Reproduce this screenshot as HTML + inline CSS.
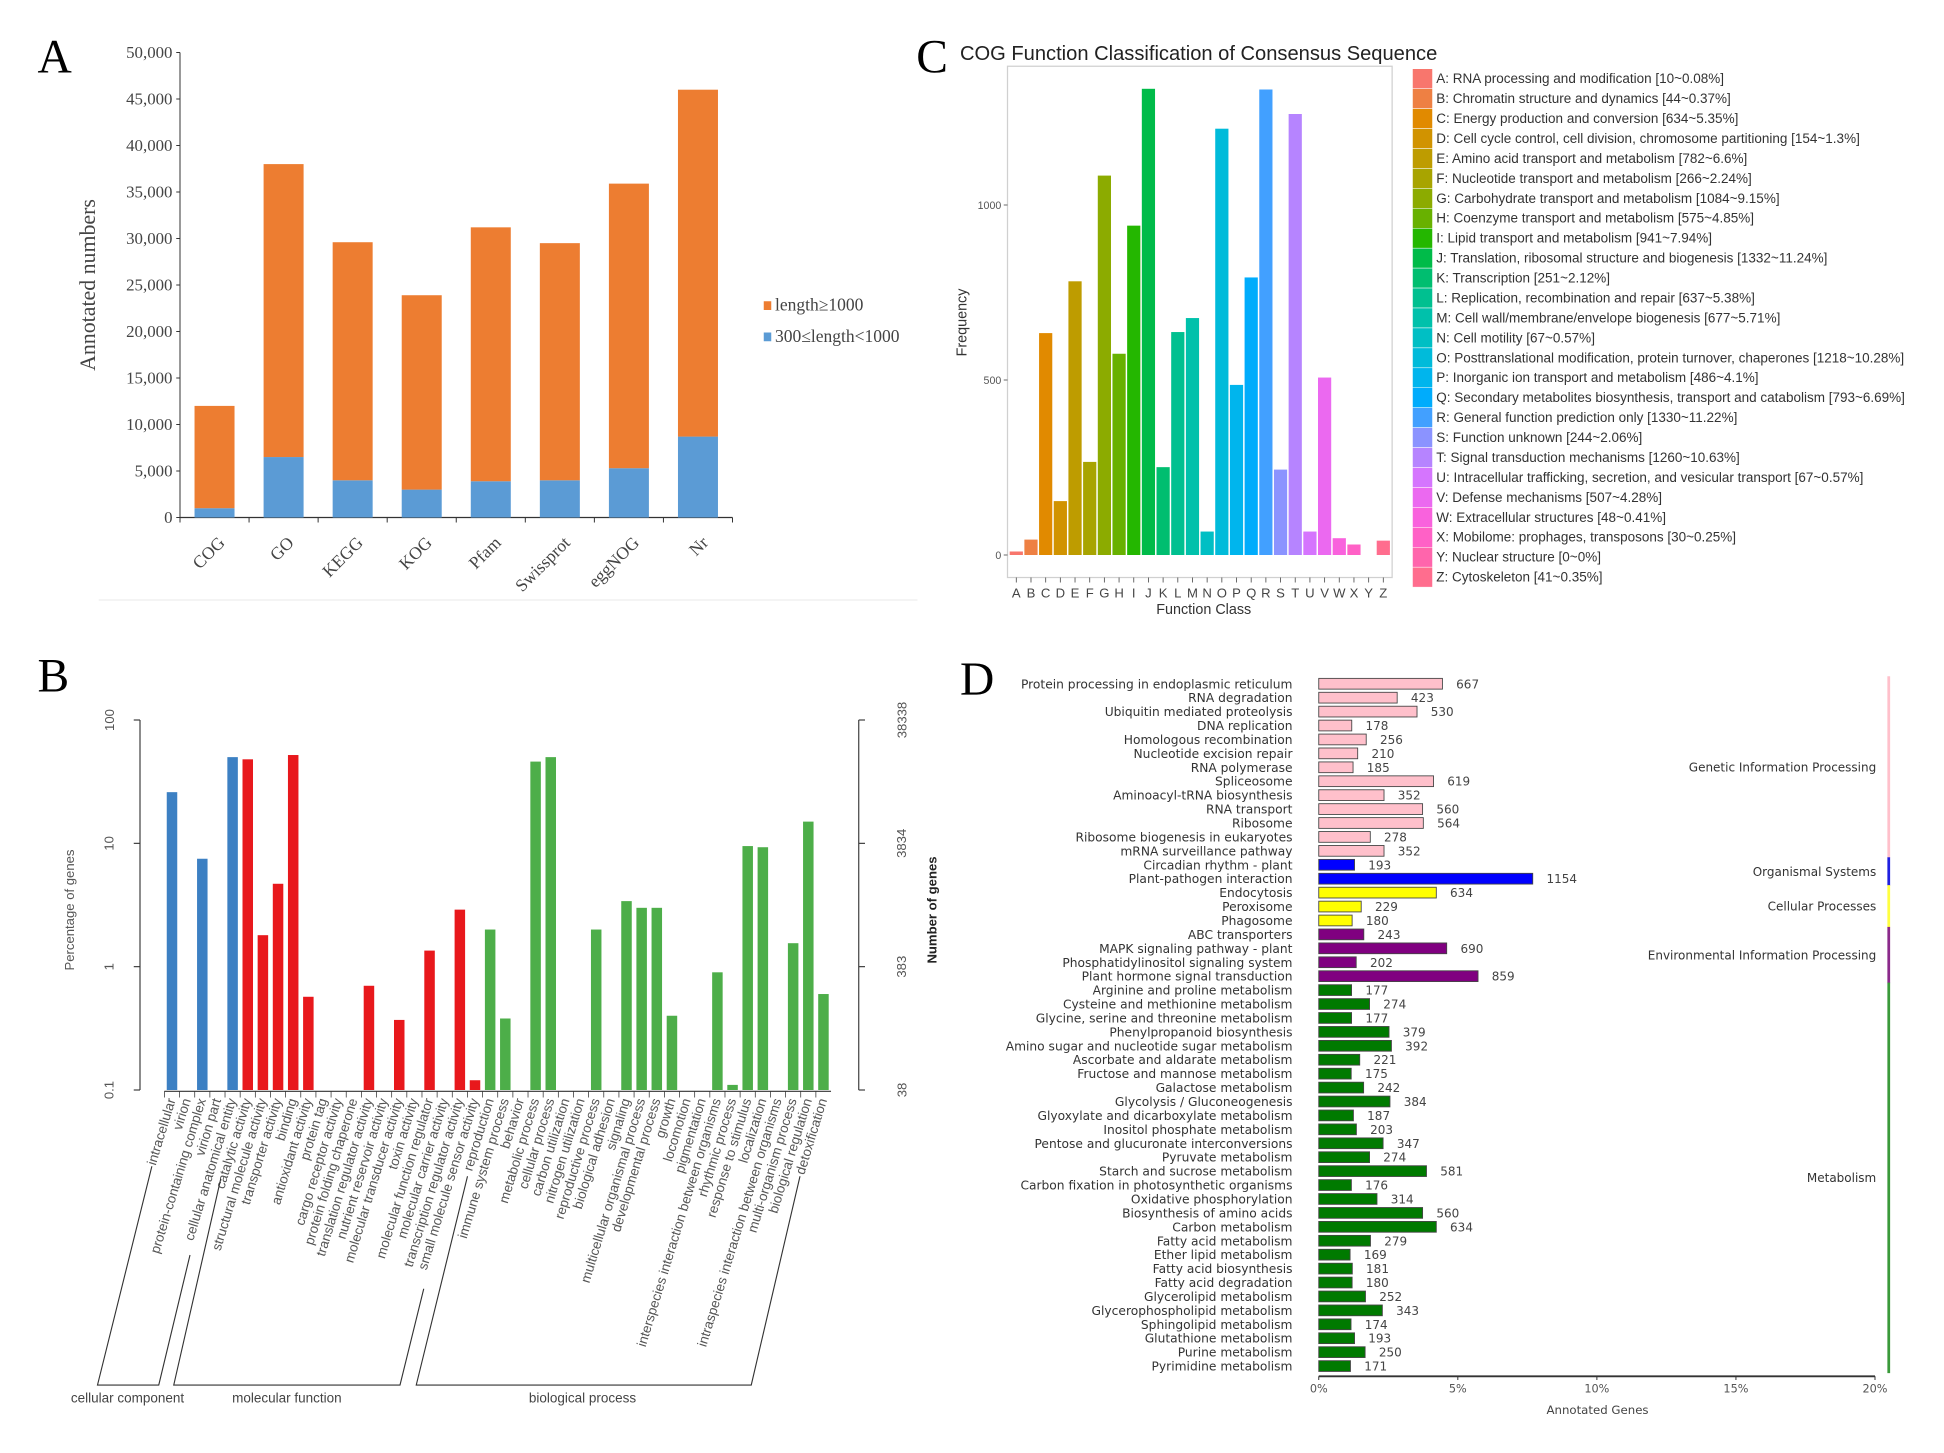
<!DOCTYPE html>
<html><head><meta charset="utf-8">
<style>
html,body{margin:0;padding:0;background:#fff;}
svg{display:block;}
</style></head>
<body>
<svg id="fig" xmlns="http://www.w3.org/2000/svg" width="1944" height="1453" viewBox="0 0 1555.2 1162.4" preserveAspectRatio="none">
<rect x="0" y="0" width="1555.2" height="1162.4" fill="#fff"/>
<g id="pA"></g>
<g id="pB"></g>
<g id="pC"></g>
<g id="pD"></g>
</svg>
<script>
// ---------- Panel A data ----------
const aCats=["COG","GO","KEGG","KOG","Pfam","Swissprot","eggNOG","Nr"];
const aShort=[1000,6500,4000,3000,3900,4000,5300,8700];
const aLong=[11000,31500,25600,20900,27300,25500,30600,37300];
const aTicks=[0,5000,10000,15000,20000,25000,30000,35000,40000,45000,50000];
// ---------- Panel B data ----------
const bCats=["intracellular","virion","protein-containing complex","virion part","cellular anatomical entity",
"catalytic activity","structural molecule activity","transporter activity","binding","antioxidant activity","protein tag","cargo receptor activity","protein folding chaperone","translation regulator activity","nutrient reservoir activity","molecular transducer activity","toxin activity","molecular function regulator","molecular carrier activity","transcription regulator activity","small molecule sensor activity",
"reproduction","immune system process","behavior","metabolic process","cellular process","carbon utilization","nitrogen utilization","reproductive process","biological adhesion","signaling","multicellular organismal process","developmental process","growth","locomotion","pigmentation","interspecies interaction between organisms","rhythmic process","response to stimulus","localization","intraspecies interaction between organisms","multi-organism process","biological regulation","detoxification"];
const bGroup=[0,0,0,0,0, 1,1,1,1,1,1,1,1,1,1,1,1,1,1,1,1, 2,2,2,2,2,2,2,2,2,2,2,2,2,2,2,2,2,2,2,2,2,2,2];
const bPct=[26,0,7.5,0,50, 48,1.8,4.7,52,0.57,0,0,0,0.7,0,0.37,0,1.35,0,2.9,0.12, 2.0,0.38,0,46,50,0,0,2.0,0,3.4,3.0,3.0,0.4,0,0,0.9,0.11,9.5,9.3,0,1.55,15,0.6];
const bLeftTicks=["0.1","1","10","100"];
const bRightTicks=["38","383","3834","38338"];
const bGroupNames=["cellular component","molecular function","biological process"];
// ---------- Panel C data ----------
const cCats=["A","B","C","D","E","F","G","H","I","J","K","L","M","N","O","P","Q","R","S","T","U","V","W","X","Y","Z"];
const cVals=[10,44,634,154,782,266,1084,575,941,1332,251,637,677,67,1218,486,793,1330,244,1260,67,507,48,30,0,41];
const cLegend=["A: RNA processing and modification [10~0.08%]","B: Chromatin structure and dynamics [44~0.37%]","C: Energy production and conversion [634~5.35%]","D: Cell cycle control, cell division, chromosome partitioning [154~1.3%]","E: Amino acid transport and metabolism [782~6.6%]","F: Nucleotide transport and metabolism [266~2.24%]","G: Carbohydrate transport and metabolism [1084~9.15%]","H: Coenzyme transport and metabolism [575~4.85%]","I: Lipid transport and metabolism [941~7.94%]","J: Translation, ribosomal structure and biogenesis [1332~11.24%]","K: Transcription [251~2.12%]","L: Replication, recombination and repair [637~5.38%]","M: Cell wall/membrane/envelope biogenesis [677~5.71%]","N: Cell motility [67~0.57%]","O: Posttranslational modification, protein turnover, chaperones [1218~10.28%]","P: Inorganic ion transport and metabolism [486~4.1%]","Q: Secondary metabolites biosynthesis, transport and catabolism [793~6.69%]","R: General function prediction only [1330~11.22%]","S: Function unknown [244~2.06%]","T: Signal transduction mechanisms [1260~10.63%]","U: Intracellular trafficking, secretion, and vesicular transport [67~0.57%]","V: Defense mechanisms [507~4.28%]","W: Extracellular structures [48~0.41%]","X: Mobilome: prophages, transposons [30~0.25%]","Y: Nuclear structure [0~0%]","Z: Cytoskeleton [41~0.35%]"];
const cTicks=[0,500,1000];
// ---------- Panel D data ----------
const dCats=["Protein processing in endoplasmic reticulum","RNA degradation","Ubiquitin mediated proteolysis","DNA replication","Homologous recombination","Nucleotide excision repair","RNA polymerase","Spliceosome","Aminoacyl-tRNA biosynthesis","RNA transport","Ribosome","Ribosome biogenesis in eukaryotes","mRNA surveillance pathway","Circadian rhythm - plant","Plant-pathogen interaction","Endocytosis","Peroxisome","Phagosome","ABC transporters","MAPK signaling pathway - plant","Phosphatidylinositol signaling system","Plant hormone signal transduction","Arginine and proline metabolism","Cysteine and methionine metabolism","Glycine, serine and threonine metabolism","Phenylpropanoid biosynthesis","Amino sugar and nucleotide sugar metabolism","Ascorbate and aldarate metabolism","Fructose and mannose metabolism","Galactose metabolism","Glycolysis / Gluconeogenesis","Glyoxylate and dicarboxylate metabolism","Inositol phosphate metabolism","Pentose and glucuronate interconversions","Pyruvate metabolism","Starch and sucrose metabolism","Carbon fixation in photosynthetic organisms","Oxidative phosphorylation","Biosynthesis of amino acids","Carbon metabolism","Fatty acid metabolism","Ether lipid metabolism","Fatty acid biosynthesis","Fatty acid degradation","Glycerolipid metabolism","Glycerophospholipid metabolism","Sphingolipid metabolism","Glutathione metabolism","Purine metabolism","Pyrimidine metabolism"];
const dVals=[667,423,530,178,256,210,185,619,352,560,564,278,352,193,1154,634,229,180,243,690,202,859,177,274,177,379,392,221,175,242,384,187,203,347,274,581,176,314,560,634,279,169,181,180,252,343,174,193,250,171];
const dGroup=[0,0,0,0,0,0,0,0,0,0,0,0,0,1,1,2,2,2,3,3,3,3,4,4,4,4,4,4,4,4,4,4,4,4,4,4,4,4,4,4,4,4,4,4,4,4,4,4,4,4];
const dGroupNames=["Genetic Information Processing","Organismal Systems","Cellular Processes","Environmental Information Processing","Metabolism"];
const dTotal=15000;
const dTicks=[0,5,10,15,20];

const NS="http://www.w3.org/2000/svg";
function el(tag,attrs,parent){const e=document.createElementNS(NS,tag);for(const k in attrs)e.setAttribute(k,attrs[k]);parent.appendChild(e);return e;}
function tx(str,attrs,parent){const e=el("text",attrs,parent);e.textContent=str;return e;}
function fmt(n){return n.toString().replace(/\B(?=(\d{3})+(?!\d))/g,",");}

// ================= PANEL A =================
(function(){
const g=document.getElementById("pA");
const serif='"Liberation Serif", serif';
const x0=144,x1=586,y0=414,yTop=42,maxV=50000;
const yA=v=>y0-v/maxV*(y0-yTop);
const step=(x1-x0)/aCats.length;
let t=tx("A",{x:30,y:58,"font-family":serif,"font-size":38,fill:"#000"},g);

let ax=el("line",{x1:x0,y1:yTop,x2:x0,y2:y0,stroke:"#333","stroke-width":0.8},g);

aTicks.forEach(v=>{
  const y=yA(v);
  el("line",{x1:x0-3,y1:y,x2:x0,y2:y,stroke:"#333","stroke-width":0.8},g);
  const l=tx(fmt(v),{x:x0-6,y:y+4.5,"text-anchor":"end","font-family":serif,"font-size":13.5,fill:"#444"},g);
  
});
let xa=el("line",{x1:x0,y1:y0,x2:x1,y2:y0,stroke:"#333","stroke-width":1},g);

for(let i=0;i<=aCats.length;i++){el("line",{x1:x0+i*step,y1:y0,x2:x0+i*step,y2:y0+4,stroke:"#333","stroke-width":0.8},g);}
aCats.forEach((c,i)=>{
  const cx=x0+(i+0.5)*step, w=32;
  const b1=el("rect",{x:cx-w/2,y:yA(aShort[i]),width:w,height:y0-yA(aShort[i]),fill:"#5B9BD5"},g);
  
  const tot=aShort[i]+aLong[i];
  const b2=el("rect",{x:cx-w/2,y:yA(tot),width:w,height:yA(aShort[i])-yA(tot),fill:"#ED7D31"},g);
  
  const l=tx(c,{x:cx+9,y:y0+21,"text-anchor":"end","font-family":serif,"font-size":14,fill:"#444",transform:`rotate(-45 ${cx+9} ${y0+21})`},g);
  
});
let yt=tx("Annotated numbers",{x:76,y:228,"text-anchor":"middle","font-family":serif,"font-size":17.5,fill:"#444",transform:"rotate(-90 76 228)"},g);

const leg=[["length≥1000","#ED7D31",246],["300≤length<1000","#5B9BD5",271]];
leg.forEach(L=>{
  const s=el("rect",{x:611,y:L[2]-5,width:6,height:7,fill:L[1]},g);
  
  const lt=tx(L[0],{x:620,y:L[2]+2.5,"font-family":serif,"font-size":14,fill:"#444"},g);
  
});
const sep=el("line",{x1:79,y1:480,x2:734,y2:480,stroke:"#eee","stroke-width":1},g);

})();

// ================= PANEL B =================
(function(){
const g=document.getElementById("pB");
const sans='"Liberation Sans", sans-serif';
const xL=112,xR=687,yTop=576,yBot=872;
const dec=(yBot-yTop)/3;
const yB=v=>yBot-(Math.log10(v)+1)*dec;
const first=137.6,step=12.12;
let t=tx("B",{x:30,y:553,"font-family":'"Liberation Serif", serif',"font-size":38,fill:"#000"},g);

let la=el("line",{x1:xL,y1:yTop,x2:xL,y2:yBot,stroke:"#333","stroke-width":0.9},g);

let ra=el("line",{x1:xR,y1:yTop,x2:xR,y2:yBot,stroke:"#333","stroke-width":0.9},g);

bLeftTicks.forEach((lab,i)=>{
  const y=yBot-i*dec;
  el("line",{x1:xL-5,y1:y,x2:xL,y2:y,stroke:"#333","stroke-width":0.9},g);
  const l=tx(lab,{x:91,y:y,"text-anchor":"middle","font-family":sans,"font-size":10.5,fill:"#555",transform:`rotate(-90 91 ${y})`},g);
  
});
bRightTicks.forEach((lab,i)=>{
  const y=yBot-i*dec;
  el("line",{x1:xR,y1:y,x2:xR+5,y2:y,stroke:"#333","stroke-width":0.9},g);
  const l=tx(lab,{x:725,y:y,"text-anchor":"middle","font-family":sans,"font-size":10.5,fill:"#555",transform:`rotate(-90 725 ${y})`},g);
  
});
let lt=tx("Percentage of genes",{x:59,y:728,"text-anchor":"middle","font-family":sans,"font-size":10.5,fill:"#555",transform:"rotate(-90 59 728)"},g);

let rt=tx("Number of genes",{x:749,y:728,"text-anchor":"middle","font-family":sans,"font-size":10.5,"font-weight":"bold",fill:"#222",transform:"rotate(-90 749 728)"},g);

const cols=["#3C80C3","#E8181C","#4DAE49"];
let xb=el("line",{x1:first-step/2,y1:yBot+1,x2:first+(bCats.length-0.5)*step,y2:yBot+1,stroke:"#333","stroke-width":0.9},g);

bCats.forEach((c,i)=>{
  const cx=first+i*step;
  el("line",{x1:cx-step/2,y1:yBot+1,x2:cx-step/2,y2:yBot+6,stroke:"#333","stroke-width":0.6},g);
  if(bPct[i]>0){
    const y=yB(Math.max(bPct[i],0.1));
    const b=el("rect",{x:cx-4.2,y:y,width:8.4,height:yBot-y,fill:cols[bGroup[i]]},g);
    
  }
  const ax=cx+3,ay=yBot+8;
  const l=tx(c,{x:ax,y:ay,"text-anchor":"end","font-family":sans,"font-size":10.8,fill:"#555",transform:`rotate(-73 ${ax} ${ay})`},g);
  
});
const brackets=[
 [[121.5,933],[78,1108],[127,1108],[152,1004]],
 [[176.6,943],[139,1108],[320,1108],[339,1031]],
 [[374,941],[333,1108],[601,1108],[640,941]]];
const glx=[102,229.5,466];
brackets.forEach((p,i)=>{
  const pl=el("polyline",{points:p.map(q=>q.join(",")).join(" "),fill:"none",stroke:"#333","stroke-width":0.9},g);
  
  const gl=tx(bGroupNames[i],{x:glx[i],y:1122,"text-anchor":"middle","font-family":sans,"font-size":10.8,fill:"#444"},g);
  
});
})();

// ================= PANEL C =================
function hcl2hex(h,c,l){
  const hr=h*Math.PI/180,u=c*Math.cos(hr),v=c*Math.sin(hr);
  const Xn=95.047,Yn=100,Zn=108.883;
  const Y=l>8?Yn*Math.pow((l+16)/116,3):Yn*l/903.3;
  const den=Xn+15*Yn+3*Zn,u0=4*Xn/den,v0=9*Yn/den;
  const up=u/(13*l)+u0,vp=v/(13*l)+v0;
  const X=9*Y*up/(4*vp),Z=-X/3-5*Y+3*Y/vp;
  const x=X/100,y=Y/100,z=Z/100;
  let r=3.240479*x-1.53715*y-0.498535*z,gg=-0.969256*x+1.875992*y+0.041556*z,b=0.055648*x-0.204043*y+1.057311*z;
  const gam=t=>{t=t<=0.0031308?12.92*t:1.055*Math.pow(t,1/2.4)-0.055;return Math.round(Math.max(0,Math.min(1,t))*255);};
  return "rgb("+gam(r)+","+gam(gg)+","+gam(b)+")";
}
(function(){
const g=document.getElementById("pC");
const sans='"Liberation Sans", sans-serif';
const bx0=806,bx1=1113.7,by0=53,by1=462;
const y0=444,y1000=164;
const yC=v=>y0-v/1000*(y0-y1000);
const unit=(bx1-bx0)/26.2;
const xC=i=>bx0+(0.6+i)*unit;
const colors=cCats.map((c,i)=>hcl2hex(15+360*i/26,100,65));
let t=tx("C",{x:733,y:58,"font-family":'"Liberation Serif", serif',"font-size":38,fill:"#000"},g);

let ti=tx("COG Function Classification of Consensus Sequence",{x:768,y:48,"font-family":sans,"font-size":16.1,fill:"#222"},g);

let box=el("rect",{x:bx0,y:by0,width:bx1-bx0,height:by1-by0,fill:"#fff",stroke:"#d0d0d0","stroke-width":1},g);

cTicks.forEach(v=>{
  const y=yC(v);
  el("line",{x1:bx0-3,y1:y,x2:bx0,y2:y,stroke:"#555","stroke-width":0.7},g);
  const l=tx(String(v),{x:bx0-5,y:y+3,"text-anchor":"end","font-family":sans,"font-size":8.5,fill:"#555"},g);
  
});
cCats.forEach((c,i)=>{
  const cx=xC(i),w=unit*0.9;
  if(cVals[i]>0){
    const b=el("rect",{x:cx-w/2,y:yC(cVals[i]),width:w,height:y0-yC(cVals[i]),fill:colors[i]},g);
    
  }
  el("line",{x1:cx,y1:by1,x2:cx,y2:by1+4,stroke:"#555","stroke-width":0.7},g);
  const l=tx(c,{x:cx,y:478,"text-anchor":"middle","font-family":sans,"font-size":10.5,fill:"#444"},g);
  
});
let xt=tx("Function Class",{x:963,y:491,"text-anchor":"middle","font-family":sans,"font-size":11.5,fill:"#333"},g);

let yt=tx("Frequency",{x:773,y:258,"text-anchor":"middle","font-family":sans,"font-size":11.5,fill:"#333",transform:"rotate(-90 773 258)"},g);

const ls=15.95,ly0=55;
cLegend.forEach((s,i)=>{
  const sw=el("rect",{x:1130,y:ly0+i*ls,width:16,height:ls,fill:colors[i],stroke:"#fff","stroke-width":0.4},g);
  
  const l=tx(s,{x:1149,y:ly0+i*ls+11.5,"font-family":sans,"font-size":10.8,fill:"#333"},g);
  
});
})();

// ================= PANEL D =================
(function(){
const g=document.getElementById("pD");
const sans='"DejaVu Sans", "Liberation Sans", sans-serif';
const x0=1055,x20=1500,rowY0=547,rowStep=11.14,axisY=1101;
const xD=p=>x0+p/20*(x20-x0);
const fills=["#FFC0CB","#0000FF","#FFFF00","#800080","#007A00"];
let t=tx("D",{x:768,y:556,"font-family":'"Liberation Serif", serif',"font-size":38,fill:"#000"},g);

dCats.forEach((c,i)=>{
  const y=rowY0+i*rowStep;
  const l=tx(c,{x:1034,y:y+3.6,"text-anchor":"end","font-family":sans,"font-size":9.8,fill:"#333"},g);
  
  const w=xD(dVals[i]/dTotal*100)-x0;
  const b=el("rect",{x:x0,y:y-4.3,width:w,height:8.6,fill:fills[dGroup[i]],stroke:"#444","stroke-width":0.7},g);
  
  const v=tx(String(dVals[i]),{x:x0+w+11,y:y+3.6,"font-family":sans,"font-size":9.6,fill:"#444"},g);
  
});
let xa=el("line",{x1:x0,y1:axisY,x2:x20,y2:axisY,stroke:"#333","stroke-width":1.5},g);

dTicks.forEach(p=>{
  const x=xD(p);
  el("line",{x1:x,y1:axisY,x2:x,y2:axisY+3,stroke:"#333","stroke-width":0.8},g);
  const l=tx(p+"%",{x:x,y:axisY+13,"text-anchor":"middle","font-family":sans,"font-size":9,fill:"#555"},g);
  
});
let at=tx("Annotated Genes",{x:1278,y:1131,"text-anchor":"middle","font-family":sans,"font-size":9.4,fill:"#444"},g);

const lineCols=["#FFC0CB","#2020E0","#FFFF40","#8B2A8B","#3A9A3A"];
let counts=[0,0,0,0,0];dGroup.forEach(k=>counts[k]++);
let start=0;
counts.forEach((n,k)=>{
  const ya=rowY0+start*rowStep-6, yb=rowY0+(start+n-1)*rowStep+5.6;
  const s=el("line",{x1:1511,y1:ya,x2:1511,y2:yb,stroke:lineCols[k],"stroke-width":2.2},g);
  
  const gl=tx(dGroupNames[k],{x:1501,y:(ya+yb)/2+3.5,"text-anchor":"end","font-family":sans,"font-size":9.6,fill:"#333"},g);
  
  start+=n;
});
})();
</script>
</body></html>
